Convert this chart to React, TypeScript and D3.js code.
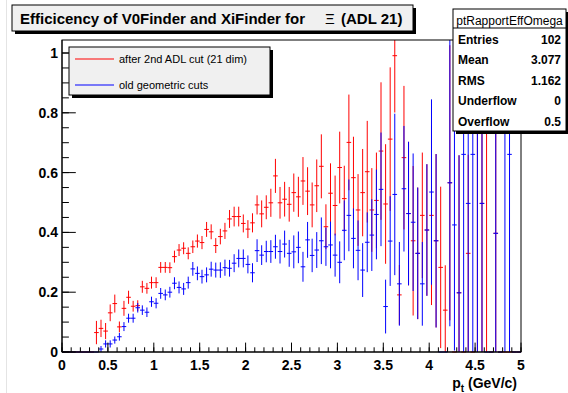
import React from "react";
import * as d3 from "d3";

// ---- data (100 bins of width 0.05 over 0..5 GeV/c) ----
const redValues = [
  0, 0, 0, 0, 0, 0, 0, 0.065, 0.079, 0.07,
  0.131, 0.162, 0.084, 0.146, 0.183, 0.153, 0.155, 0.218, 0.213, 0.232,
  0.232, 0.283, 0.283, 0.282, 0.319, 0.341, 0.347, 0.33, 0.352, 0.371,
  0.366, 0.41, 0.402, 0.356, 0.386, 0.405, 0.445, 0.453, 0.453, 0.43,
  0.411, 0.432, 0.492, 0.462, 0.484, 0.499, 0.589, 0.499, 0.511, 0.494,
  0.533, 0.519, 0.572, 0.538, 0.492, 0.556, 0.621, 0.419, 0.531, 0.49,
  0.617, 0.513, 0.701, 0.583, 0.475, 0.533, 0.603, 0.475, 0.507, 0.672,
  0.495, 0.712, 0.991, 0.191, 0.65, 0.463, 0.372, 0.33, 0.457, 0.408,
  0.457, 0.372, 0.283, 0.14, 0.566, 0, 0.198, 0, 0.33, 0,
  0.9, 0.497, 0.9, 0, 0.397, 0, 0, 0, 0, 0,
];
const redErrors = [
  0, 0, 0, 0, 0, 0, 0, 0.039, 0.029, 0.027,
  0.028, 0.03, 0.018, 0.025, 0.022, 0.018, 0.018, 0.02, 0.018, 0.02,
  0.018, 0.018, 0.018, 0.018, 0.02, 0.02, 0.02, 0.02, 0.021, 0.022,
  0.022, 0.025, 0.025, 0.025, 0.026, 0.027, 0.03, 0.033, 0.033, 0.03,
  0.03, 0.032, 0.032, 0.045, 0.04, 0.047, 0.057, 0.053, 0.058, 0.058,
  0.064, 0.067, 0.08, 0.08, 0.075, 0.088, 0.107, 0.075, 0.1, 0.1,
  0.12, 0.11, 0.16, 0.137, 0.12, 0.146, 0.17, 0.14, 0.16, 0.23,
  0.2, 0.24, 0.19, 0.1, 0.24, 0.24, 0.25, 0.22, 0.21, 0.22,
  0.3, 0.29, 0.27, 0.15, 0.46, 0, 0.46, 0, 0.33, 0,
  0.9, 0.5, 0.9, 0, 0.4, 0, 0, 0, 0, 0,
];
const blueValues = [
  0, 0, 0, 0, 0, 0, 0, 0, 0.01, 0.027,
  0.027, 0.04, 0.051, 0.085, 0.113, 0.113, 0.148, 0.14, 0.133, 0.168,
  0.163, 0.196, 0.191, 0.2, 0.23, 0.216, 0.211, 0.232, 0.278, 0.263,
  0.252, 0.258, 0.277, 0.274, 0.274, 0.282, 0.28, 0.297, 0.313, 0.313,
  0.293, 0.265, 0.339, 0.324, 0.336, 0.336, 0.352, 0.336, 0.361, 0.33,
  0.335, 0.35, 0.285, 0.375, 0.323, 0.341, 0.372, 0.352, 0.358, 0.324,
  0.3, 0.407, 0.457, 0.38, 0.34, 0.274, 0.367, 0.391, 0.46, 0.544,
  0.152, 0.371, 0.527, 0.228, 0.546, 0.463, 0.434, 0.33, 0.228, 0.408,
  0.535, 0.372, 0, 0, 0.566, 0.425, 0.198, 0.661, 0.497, 0.661,
  0.9, 0.497, 0, 0, 0.397, 0, 0.9, 0.661, 0, 0,
];
const blueErrors = [
  0, 0, 0, 0, 0, 0, 0, 0, 0.01, 0.012,
  0.012, 0.012, 0.013, 0.015, 0.015, 0.015, 0.016, 0.016, 0.016, 0.017,
  0.017, 0.018, 0.018, 0.018, 0.02, 0.02, 0.02, 0.02, 0.023, 0.023,
  0.023, 0.025, 0.025, 0.025, 0.026, 0.027, 0.028, 0.03, 0.03, 0.03,
  0.03, 0.032, 0.038, 0.033, 0.036, 0.038, 0.04, 0.04, 0.045, 0.045,
  0.055, 0.053, 0.05, 0.06, 0.056, 0.06, 0.078, 0.064, 0.078, 0.072,
  0.07, 0.1, 0.12, 0.1, 0.1, 0.09, 0.1, 0.12, 0.15, 0.19,
  0.09, 0.15, 0.27, 0.14, 0.21, 0.24, 0.23, 0.22, 0.14, 0.22,
  0.31, 0.29, 0, 0, 0.48, 0.42, 0.46, 0.661, 0.5, 0.661,
  0.9, 0.5, 0, 0, 0.4, 0, 0.9, 0.661, 0, 0,
];
const binWidth = 0.05;

const xTickValues = [0, 0.5, 1, 1.5, 2, 2.5, 3, 3.5, 4, 4.5, 5];
const xTickLabels = ["0", "0.5", "1", "1.5", "2", "2.5", "3", "3.5", "4", "4.5", "5"];
const yTickValues = [0, 0.2, 0.4, 0.6, 0.8, 1];
const yTickLabels = ["0", "0.2", "0.4", "0.6", "0.8", "1"];

const statName = "ptRapportEffOmega";
const statLabels = ["Entries", "Mean", "RMS", "Underflow", "Overflow"];
const statValues = ["102", "3.077", "1.162", "0", "0.5"];

const legendLabels = ["after 2nd ADL cut (21 dim)", "old geometric cuts"];
const seriesColors = ["#ff0000", "#0000ff"];

const FONT = "'Liberation Sans', Arial, Helvetica, sans-serif";

// ---- layout ----
const W = 568, H = 393;
const FL = 62, FR = 521, FT = 40, FB = 352;
const x = d3.scaleLinear().domain([0, 5]).range([FL, FR]);
const y = d3.scaleLinear().domain([0, 1.0435]).range([FB, FT]);

function Series({ values, errors, color }: { values: number[]; errors: number[]; color: string }) {
  return (
    <g stroke={color} strokeWidth={1} fill="none">
      {values.map((v, i) => {
        const x0 = x(i * binWidth);
        const x1 = x((i + 1) * binWidth);
        const xc = x((i + 0.5) * binWidth);
        const e = errors[i];
        return (
          <g key={i}>
            <line x1={x0} x2={x1} y1={y(v)} y2={y(v)} />
            {e > 0 && <line x1={xc} x2={xc} y1={y(Math.max(0, v - e))} y2={y(v + e)} />}
          </g>
        );
      })}
    </g>
  );
}

export default function App() {
  const xMinor = d3.range(0, 5.0001, 0.1);
  const yMinor = d3.range(0, 1.0001, 0.05);
  return (
    <svg
      width={W}
      height={H}
      style={{ position: "absolute", left: 0, top: 0, background: "#fff" }}
      fontFamily={FONT}
    >
      <rect x={0} y={0} width={W} height={H} fill="#fff" />
      <line x1={6.5} x2={6.5} y1={0} y2={H} stroke="#e4e4e4" />

      <defs>
        <clipPath id="frameClip">
          <rect x={FL} y={FT} width={FR - FL} height={FB - FT + 1} />
        </clipPath>
      </defs>

      {/* data */}
      <g clipPath="url(#frameClip)">
        <Series values={redValues} errors={redErrors} color={seriesColors[0]} />
        <Series values={blueValues} errors={blueErrors} color={seriesColors[1]} />
      </g>

      {/* frame */}
      <rect x={FL} y={FT} width={FR - FL} height={FB - FT} fill="none" stroke="#000" strokeWidth={1} />

      {/* x ticks */}
      <g stroke="#000" strokeWidth={1}>
        {xMinor.map((t, i) => (
          <line key={"xm" + i} x1={x(t)} x2={x(t)} y1={FB} y2={FB - 4.7} />
        ))}
        {xTickValues.map((t, i) => (
          <line key={"xM" + i} x1={x(t)} x2={x(t)} y1={FB} y2={FB - 9.4} />
        ))}
        {yMinor.map((t, i) => (
          <line key={"ym" + i} x1={FL} x2={FL + 6.9} y1={y(t)} y2={y(t)} />
        ))}
        {yTickValues.map((t, i) => (
          <line key={"yM" + i} x1={FL} x2={FL + 13.8} y1={y(t)} y2={y(t)} />
        ))}
      </g>
      <line x1={FL} x2={FL} y1={FT} y2={FB} stroke="#000" />
      <line x1={FL} x2={FR} y1={FB} y2={FB} stroke="#000" />

      {/* tick labels */}
      <g fontSize={14} fontWeight="bold" fill="#000">
        {xTickValues.map((t, i) => (
          <text key={"xl" + i} x={x(t)} y={369.5} textAnchor="middle">
            {xTickLabels[i]}
          </text>
        ))}
        {yTickValues.map((t, i) => (
          <text key={"yl" + i} x={58} y={y(t) + 5} textAnchor="end">
            {yTickLabels[i]}
          </text>
        ))}
      </g>

      {/* x axis title */}
      <text x={517} y={388} textAnchor="end" fontSize={14} fontWeight="bold">
        p<tspan fontSize={10} dy={4}>t</tspan>
        <tspan dy={-4}> (GeV/c)</tspan>
      </text>

      {/* title box */}
      <rect x={15} y={8} width={401} height={26} fill="#000" />
      <rect x={12} y={5} width={401} height={26} fill="#f0f0f0" stroke="#000" />
      <text x={20} y={24} fontSize={15} fontWeight="bold">
        Efficicency of V0Finder and XiFinder for
      </text>
      <text x={325} y={24} fontSize={15}>
        Ξ
      </text>
      <text x={341} y={24} fontSize={15} fontWeight="bold">
        (ADL 21)
      </text>

      {/* legend */}
      <rect x={72} y={50} width={201} height={48} fill="#000" />
      <rect x={69} y={47} width={201} height={48} fill="#f0f0f0" stroke="#000" />
      {legendLabels.map((lab, i) => (
        <g key={"lg" + i}>
          <line x1={75} x2={114} y1={59 + i * 26} y2={59 + i * 26} stroke={seriesColors[i]} />
          <text x={119} y={63 + i * 26} fontSize={11}>
            {lab}
          </text>
        </g>
      ))}

      {/* stats box */}
      <rect x={456} y={12} width={113} height={122} fill="#000" />
      <rect x={453} y={9} width={113} height={122} fill="#fff" stroke="#000" />
      <line x1={453} x2={566} y1={28} y2={28} stroke="#000" />
      <text x={509.5} y={25} fontSize={12} textAnchor="middle">
        {statName}
      </text>
      {statLabels.map((lab, i) => (
        <g key={"st" + i} fontSize={12} fontWeight="bold">
          <text x={458} y={43.5 + i * 20.5}>
            {lab}
          </text>
          <text x={561} y={43.5 + i * 20.5} textAnchor="end">
            {statValues[i]}
          </text>
        </g>
      ))}
    </svg>
  );
}
